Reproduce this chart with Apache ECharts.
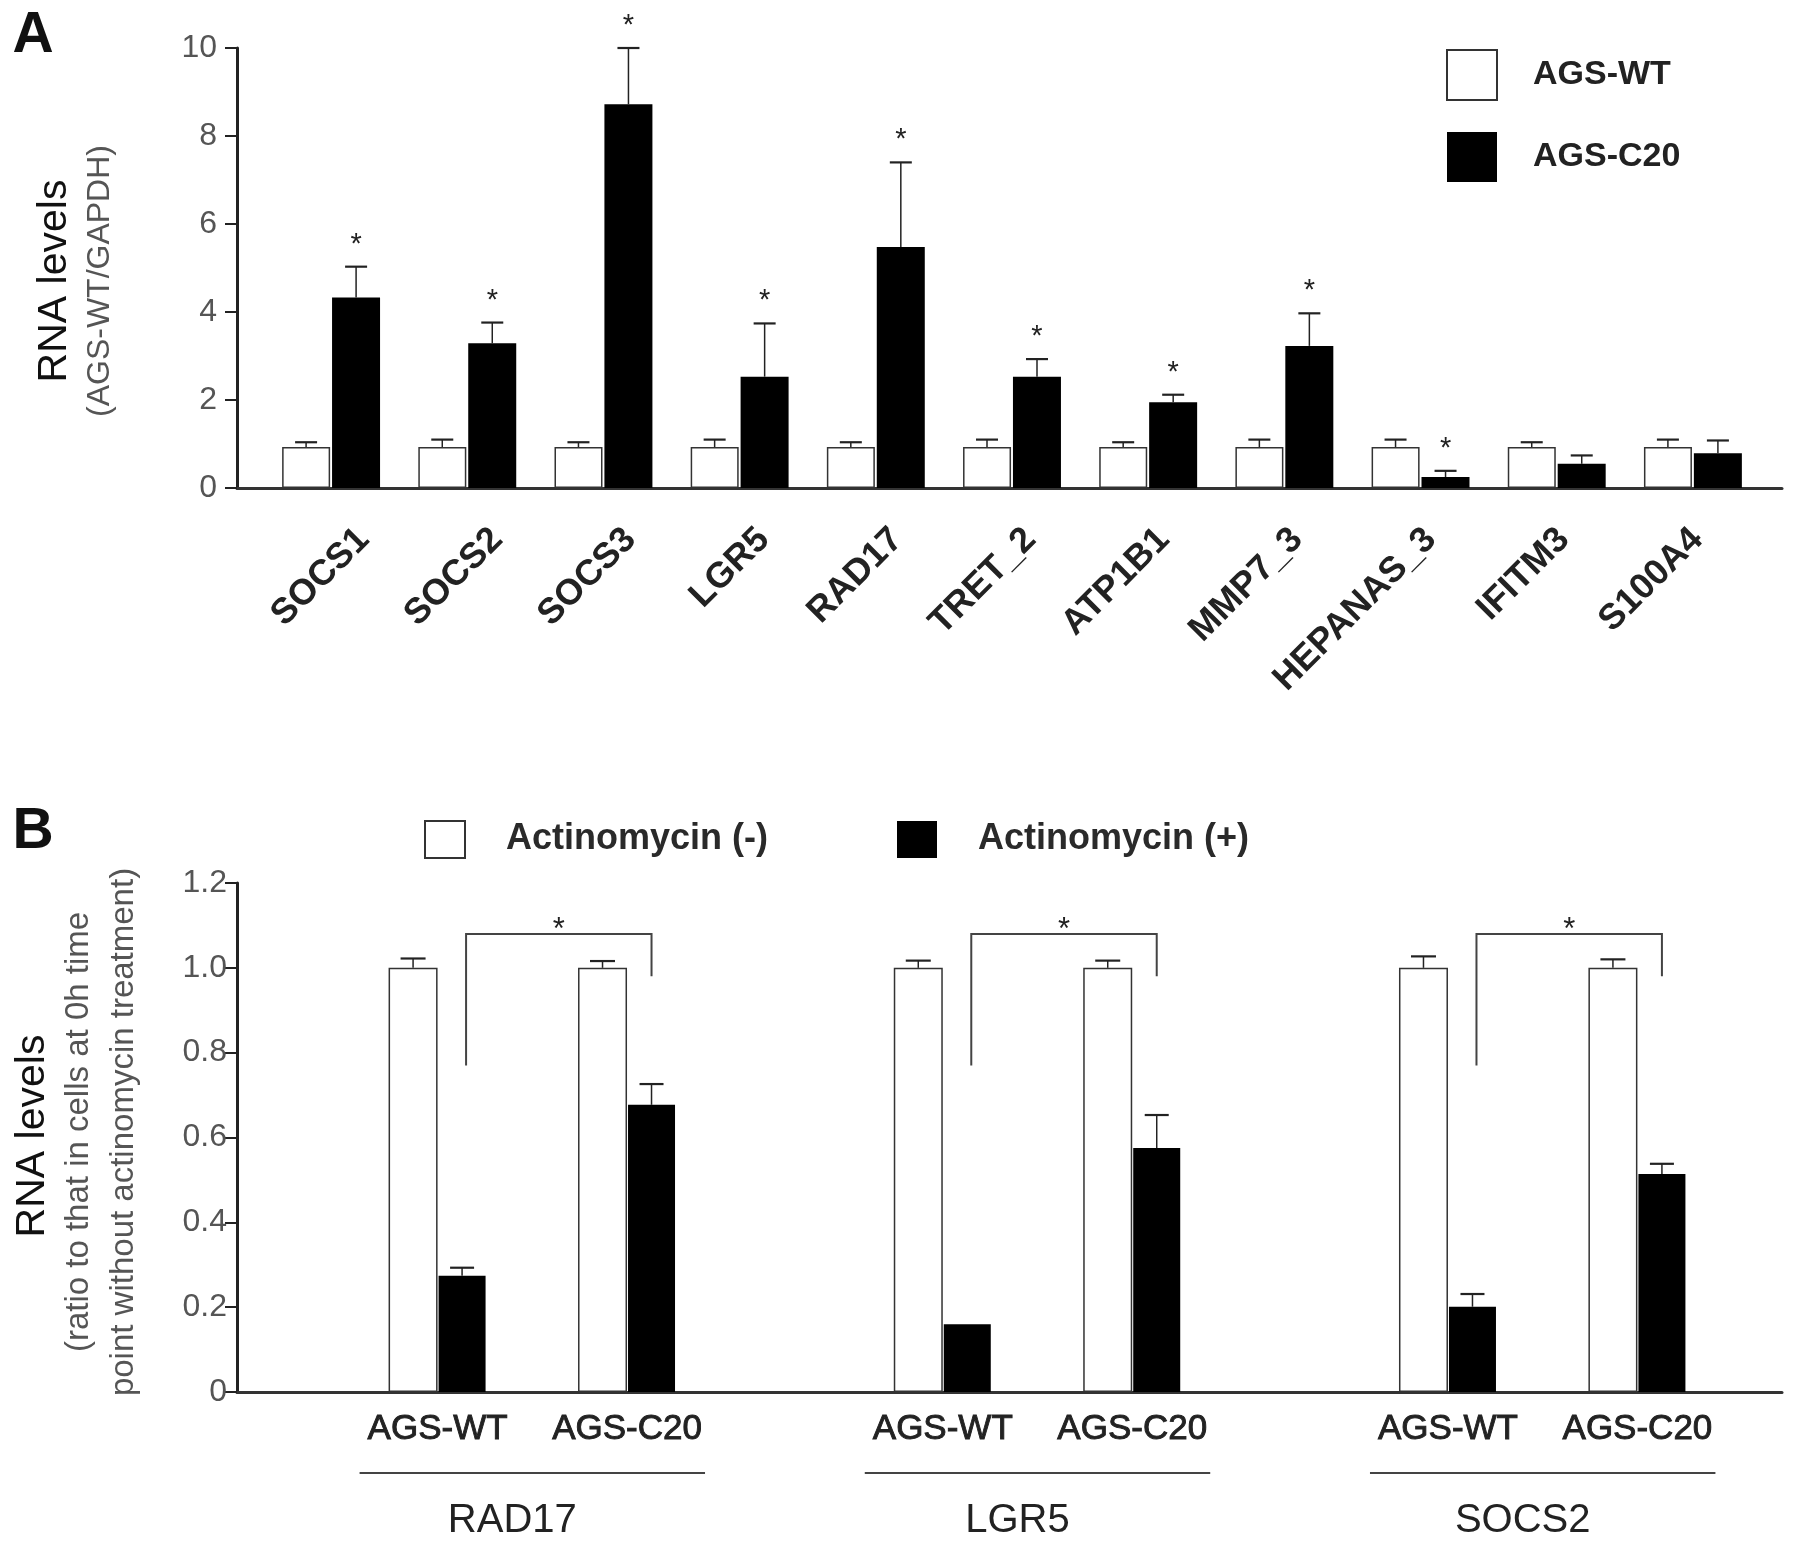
<!DOCTYPE html>
<html><head><meta charset="utf-8">
<script src="https://cdn.jsdelivr.net/npm/echarts@6/dist/echarts.min.js"></script>
<style>html,body{margin:0;padding:0;background:#fff}#c{width:1795px;height:1550px}</style>
</head><body><div id="c"></div>
<script>
const FONT = '"Liberation Sans", Arial, Helvetica, sans-serif';

// ---------- Panel A data ----------
const genesA = ['SOCS1','SOCS2','SOCS3','LGR5','RAD17','TRET_2','ATP1B1','MMP7_3','HEPANAS_3','IFITM3','S100A4'];
const wtA     = [0.93,0.93,0.93,0.93,0.93,0.93,0.93,0.93,0.93,0.93,0.93];
const wtErrA  = [0.11,0.17,0.11,0.17,0.11,0.17,0.11,0.17,0.17,0.11,0.17];
const c20A    = [4.33,3.29,8.72,2.53,5.48,2.53,1.95,3.23,0.25,0.55,0.79];
const c20ErrA = [0.70,0.47,1.28,1.21,1.92,0.40,0.17,0.74,0.14,0.19,0.29];
const sigA    = [1,1,1,1,1,1,1,1,1,0,0];
const yTicksA = ['0','2','4','6','8','10'];

// ---------- Panel B data ----------
const genesB = ['RAD17','LGR5','SOCS2'];
const linesB = ['AGS-WT','AGS-C20'];
// order: RAD17 WT, RAD17 C20, LGR5 WT, LGR5 C20, SOCS2 WT, SOCS2 C20
const minusB    = [1.00,1.00,1.00,1.00,1.00,1.00];
const minusErrB = [0.022,0.016,0.017,0.017,0.027,0.020];
const plusB     = [0.274,0.677,0.160,0.575,0.201,0.514];
const plusErrB  = [0.019,0.049,0.000,0.078,0.030,0.024];
const bracketTopB   = [1.08,1.08,1.08];
const bracketLeftB  = [0.77,0.77,0.77];
const bracketRightB = [0.98,0.98,0.98];
const yTicksB = ['0','0.2','0.4','0.6','0.8','1.0','1.2'];

// ---------- layout of panel B category slots ----------
const PAIR_STEP = 3, GENE_STEP = 8;
const catsB = [];
const slotB = [];
genesB.forEach((g, gi) => {
  const base = gi * GENE_STEP;
  const span = (gi === genesB.length - 1) ? PAIR_STEP + 1 : GENE_STEP;
  for (let k = 0; k < span; k++) catsB.push('');
  linesB.forEach((l, li) => {
    const s = base + li * PAIR_STEP;
    catsB[s] = l;
    slotB.push(s);
  });
});
const slotData = (vals) => {
  const arr = catsB.map(() => '-');
  slotB.forEach((s, k) => { arr[s] = vals[k]; });
  return arr;
};

function errorBars(dx, capHalf, starGap, starSize) {
  return function (params, api) {
    const c = api.value(0), v = api.value(1), e = api.value(2), s = api.value(3);
    const p0 = api.coord([c, v]);
    const p1 = api.coord([c, v + e]);
    const x = p0[0] + dx;
    const ch = [];
    if (e > 0) {
      ch.push({type: 'line', shape: {x1: x, y1: p0[1], x2: x, y2: p1[1]}, style: {stroke: '#222', lineWidth: 1.5}});
      ch.push({type: 'line', shape: {x1: x - capHalf, y1: p1[1], x2: x + capHalf, y2: p1[1]}, style: {stroke: '#222', lineWidth: 2.2}});
    }
    if (s) {
      ch.push({type: 'text', style: {text: '*', x: x, y: p1[1] - starGap, align: 'center', verticalAlign: 'middle',
        fontSize: starSize, fontFamily: FONT, fill: '#222'}});
    }
    return {type: 'group', children: ch};
  };
}

const chart = echarts.init(document.getElementById('c'), null, {renderer: 'canvas'});

const G = (left, top, width, height) => ({left, top, width, height, containLabel: false, outerBoundsMode: 'none'});
const hiddenCat = (data, gi) => ({type: 'category', gridIndex: gi, data: data, show: false});
const hiddenVal = (gi, max) => ({type: 'value', gridIndex: gi, min: 0, max: max, show: false});
const B_LEFT = 406, B_W = 1263, HALF = 24.5;

const option = {
  animation: false,
  backgroundColor: '#fff',
  textStyle: {fontFamily: FONT},
  grid: [
    G(263, 48, 1498, 440),            // 0 A bars
    G(237, 48, 1545, 440),            // 1 A axis lines
    G(297, 48, 1467, 440),            // 2 A rotated labels
    G(B_LEFT, 883, B_W, 509),         // 3 B labels / groups
    G(237, 883, 1545, 509),           // 4 B axis lines
    G(B_LEFT - HALF, 883, B_W, 509),  // 5 B white bars
    G(B_LEFT + HALF, 883, B_W, 509)   // 6 B black bars
  ],
  xAxis: [
    hiddenCat(genesA, 0),
    {type: 'value', gridIndex: 1, min: 0, max: 1, axisLine: {show: true, lineStyle: {color: '#333', width: 3}},
      axisTick: {show: false}, axisLabel: {show: false}, splitLine: {show: false}},
    {type: 'category', gridIndex: 2, data: genesA, axisLine: {show: false}, axisTick: {show: false},
      axisLabel: {interval: 0, rotate: 45, margin: 46, fontSize: 36, fontWeight: 'bold', color: '#222', fontFamily: FONT}},
    {type: 'category', gridIndex: 3, data: catsB, axisLine: {show: false}, axisTick: {show: false},
      axisLabel: {interval: 0, margin: 20, fontSize: 35, color: '#222', fontFamily: FONT,
        textBorderColor: '#222', textBorderWidth: 0.9}},
    {type: 'value', gridIndex: 4, min: 0, max: 1, axisLine: {show: true, lineStyle: {color: '#333', width: 3}},
      axisTick: {show: false}, axisLabel: {show: false}, splitLine: {show: false}},
    hiddenCat(catsB, 5),
    hiddenCat(catsB, 6)
  ],
  yAxis: [
    hiddenVal(0, 10),
    {type: 'value', gridIndex: 1, min: 0, max: 10, interval: 2,
      axisLine: {show: true, lineStyle: {color: '#222', width: 3}},
      axisTick: {show: true, inside: false, length: 12, lineStyle: {color: '#222', width: 2}},
      axisLabel: {margin: 20, fontSize: 32, color: '#555', fontFamily: FONT,
        formatter: (v) => yTicksA[Math.round(v / 2)]},
      splitLine: {show: false}},
    hiddenVal(2, 10),
    hiddenVal(3, 1.2),
    {type: 'value', gridIndex: 4, min: 0, max: 1.2, interval: 0.2,
      axisLine: {show: true, lineStyle: {color: '#222', width: 3}},
      axisTick: {show: true, inside: false, length: 12, lineStyle: {color: '#222', width: 2}},
      axisLabel: {margin: 10, fontSize: 32, color: '#555', fontFamily: FONT,
        formatter: (v) => yTicksB[Math.round(v / 0.2)]},
      splitLine: {show: false}},
    hiddenVal(5, 1.2),
    hiddenVal(6, 1.2)
  ],
  legend: [
    {data: [
        {name: 'AGS-WT', icon: 'rect', itemStyle: {color: '#fff', borderColor: '#333', borderWidth: 2}},
        {name: 'AGS-C20', icon: 'rect', itemStyle: {color: '#000', borderColor: '#000', borderWidth: 0}}],
      orient: 'vertical', left: 1446, top: 49, padding: 0, itemWidth: 50, itemHeight: 50, itemGap: 31,
      selectedMode: false,
      textStyle: {fontSize: 34, fontWeight: 'bold', color: '#222', fontFamily: FONT, padding: [0, 0, 0, 31]}},
    {data: [
        {name: 'Actinomycin (-)', icon: 'rect', itemStyle: {color: '#fff', borderColor: '#333', borderWidth: 2}},
        {name: 'Actinomycin (+)', icon: 'rect', itemStyle: {color: '#000', borderColor: '#000', borderWidth: 0}}],
      orient: 'horizontal', left: 424, top: 820, padding: 0, itemWidth: 40, itemHeight: 37, itemGap: 129,
      selectedMode: false,
      textStyle: {fontSize: 36, fontWeight: 'bold', color: '#2a2a2a', fontFamily: FONT, padding: [0, 0, 0, 36]}}
  ],
  graphic: [
    {type: 'text', x: 33, y: 36, style: {text: 'A', fontSize: 57, fontWeight: 'bold', fontFamily: FONT, fill: '#111', align: 'center', verticalAlign: 'middle'}},
    {type: 'text', x: 33, y: 832, style: {text: 'B', fontSize: 57, fontWeight: 'bold', fontFamily: FONT, fill: '#111', align: 'center', verticalAlign: 'middle'}},
    {type: 'text', x: 55, y: 281, rotation: Math.PI / 2, style: {text: 'RNA levels', fontSize: 41, fontFamily: FONT, fill: '#111', align: 'center', verticalAlign: 'middle'}},
    {type: 'text', x: 100, y: 281, rotation: Math.PI / 2, style: {text: '(AGS-WT/GAPDH)', fontSize: 32, fontFamily: FONT, fill: '#555', align: 'center', verticalAlign: 'middle'}},
    {type: 'text', x: 33, y: 1136, rotation: Math.PI / 2, style: {text: 'RNA levels', fontSize: 41, fontFamily: FONT, fill: '#111', align: 'center', verticalAlign: 'middle'}},
    {type: 'text', x: 101, y: 1132, rotation: Math.PI / 2, style: {text: '(ratio to that in cells at 0h time\npoint without actinomycin treatment)', fontSize: 33, lineHeight: 45, fontFamily: FONT, fill: '#555', align: 'center', verticalAlign: 'middle'}}
  ],
  series: [
    // Panel A bars
    {name: 'AGS-WT', type: 'bar', xAxisIndex: 0, yAxisIndex: 0, data: wtA, barWidth: 48, barGap: '4%',
      itemStyle: {color: '#fff', borderColor: '#333', borderWidth: 1.5}},
    {name: 'AGS-C20', type: 'bar', xAxisIndex: 0, yAxisIndex: 0, data: c20A, barWidth: 48, barGap: '4%',
      itemStyle: {color: '#000'}},
    {type: 'custom', xAxisIndex: 0, yAxisIndex: 0, clip: false, z: 5, encode: {x: 0, y: 1},
      renderItem: errorBars(-25, 11, 22, 29), data: wtA.map((v, i) => [i, v, wtErrA[i], 0])},
    {type: 'custom', xAxisIndex: 0, yAxisIndex: 0, clip: false, z: 5, encode: {x: 0, y: 1},
      renderItem: errorBars(25, 11, 22, 29), data: c20A.map((v, i) => [i, v, c20ErrA[i], sigA[i]])},

    // Panel B bars (each series on its own shifted slot grid)
    {name: 'Actinomycin (-)', type: 'bar', xAxisIndex: 5, yAxisIndex: 5, data: slotData(minusB), barWidth: 49,
      itemStyle: {color: '#fff', borderColor: '#333', borderWidth: 1.5}},
    {name: 'Actinomycin (+)', type: 'bar', xAxisIndex: 6, yAxisIndex: 6, data: slotData(plusB), barWidth: 47,
      itemStyle: {color: '#000'}},
    {type: 'custom', xAxisIndex: 5, yAxisIndex: 5, clip: false, z: 5, encode: {x: 0, y: 1},
      renderItem: errorBars(0, 12.5, 0, 30), data: slotB.map((s, k) => [s, minusB[k], minusErrB[k], 0])},
    {type: 'custom', xAxisIndex: 6, yAxisIndex: 6, clip: false, z: 5, encode: {x: 0, y: 1},
      renderItem: errorBars(0, 12, 0, 30), data: slotB.map((s, k) => [s, plusB[k], plusErrB[k], 0])},
    // brackets with significance stars (between the two black bars of each gene)
    {type: 'custom', xAxisIndex: 6, yAxisIndex: 6, clip: false, z: 6, encode: {x: 0, y: 1},
      data: genesB.map((g, gi) => [slotB[2 * gi], bracketTopB[gi], bracketLeftB[gi], bracketRightB[gi]]),
      renderItem: function (params, api) {
        const gi = params.dataIndex;
        const sl = slotB[2 * gi], sr = slotB[2 * gi + 1];
        const top = api.value(1), le = api.value(2), re = api.value(3);
        const xl = api.coord([sl, top])[0] + 4;
        const xr = api.coord([sr, top])[0];
        const yt = api.coord([sl, top])[1];
        const yl = api.coord([sl, le])[1];
        const yr = api.coord([sr, re])[1];
        return {type: 'group', children: [
          {type: 'polyline', shape: {points: [[xl, yl], [xl, yt], [xr, yt], [xr, yr]]}, style: {stroke: '#444', lineWidth: 2, fill: null}},
          {type: 'text', style: {text: '*', x: (xl + xr) / 2, y: yt - 3, align: 'center', verticalAlign: 'middle', fontSize: 31, fontFamily: FONT, fill: '#222'}}
        ]};
      }},
    // gene group underline + names
    {type: 'custom', xAxisIndex: 3, yAxisIndex: 3, clip: false, z: 6, encode: {x: 0, y: 1},
      data: genesB.map((g, gi) => [slotB[2 * gi], 0]),
      renderItem: function (params, api) {
        const gi = params.dataIndex;
        const x1 = api.coord([slotB[2 * gi], 0])[0] - 78;
        const x2 = api.coord([slotB[2 * gi + 1], 0])[0] + 78;
        const y0 = api.coord([slotB[2 * gi], 0])[1];
        return {type: 'group', children: [
          {type: 'line', shape: {x1: x1, y1: y0 + 81, x2: x2, y2: y0 + 81}, style: {stroke: '#444', lineWidth: 2}},
          {type: 'text', style: {text: genesB[gi], x: (x1 + x2) / 2 - 20, y: y0 + 129, align: 'center', verticalAlign: 'middle', fontSize: 40, fontFamily: FONT, fill: '#222'}}
        ]};
      }}
  ]
};
chart.setOption(option);
</script></body></html>
